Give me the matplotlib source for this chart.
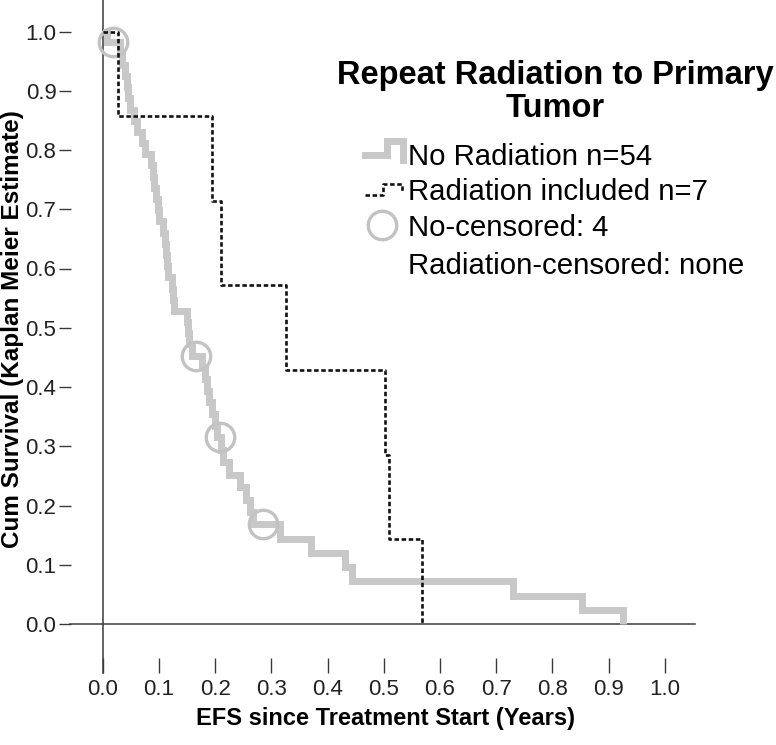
import numpy as np
import matplotlib
matplotlib.use("Agg")
import matplotlib.pyplot as plt

plt.rcParams['font.family'] = ['Liberation Sans', 'DejaVu Sans']

# ---------------- data ----------------
# No Radiation group (n=54): event times and censored times (years)
no_rad_events = [0.008,
                 0.031, 0.034, 0.040, 0.043, 0.045, 0.049, 0.056, 0.061, 0.070,
                 0.075, 0.086, 0.090, 0.091, 0.095, 0.098, 0.100, 0.107, 0.111,
                 0.112, 0.114, 0.116, 0.123, 0.125, 0.127, 0.150, 0.152, 0.154,
                 0.159,
                 0.177, 0.182, 0.186, 0.189, 0.195, 0.200, 0.204,
                 0.211, 0.214, 0.225, 0.245, 0.255, 0.262, 0.268,
                 0.316, 0.371, 0.431, 0.443, 0.730, 0.852, 0.926]
no_rad_censored = [0.0185, 0.166, 0.209, 0.285]

# Radiation included group (n=7): event times (no censoring)
rad_events = [0.027, 0.194, 0.211, 0.326, 0.502, 0.510, 0.569]
rad_censored = []

x_ticks = [0.0, 0.1, 0.2, 0.3, 0.4, 0.5, 0.6, 0.7, 0.8, 0.9, 1.0]
y_ticks = [0.0, 0.1, 0.2, 0.3, 0.4, 0.5, 0.6, 0.7, 0.8, 0.9, 1.0]

legend_title = ["Repeat Radiation to Primary", "Tumor"]
legend_labels = ["No Radiation n=54", "Radiation included n=7",
                 "No-censored: 4", "Radiation-censored: none"]
x_label = "EFS since Treatment Start (Years)"
y_label = "Cum Survival (Kaplan Meier Estimate)"


def kaplan_meier(events, censored):
    times = sorted(set(events) | set(censored))
    n = len(events) + len(censored)
    at_risk = n
    s = 1.0
    t_out, s_out, cens_pts = [0.0], [1.0], []
    for t in times:
        d = events.count(t)
        c = censored.count(t)
        if d:
            s *= (at_risk - d) / at_risk
            t_out.append(t)
            s_out.append(s)
        if c:
            cens_pts.append((t, s))
        at_risk -= d + c
    return np.array(t_out), np.array(s_out), cens_pts


W, H = 776, 745
fig = plt.figure(figsize=(W / 100, H / 100), dpi=100)
ax = fig.add_axes([0, 0, 1, 1])

# pixel mapping of the reference: x0=102.7px, 0.1 -> 56.2px ; y0=624px, 0.1 -> 59.25px
x0p, xs = 102.7, 562.0
y0p, ys = 624.0, 592.5
ax.set_xlim((0 - x0p) / xs, (W - x0p) / xs)
ax.set_ylim((y0p - H) / ys, (y0p - 0) / ys)


def px(xp, yp):
    return (xp - x0p) / xs, (y0p - yp) / ys


gray = '#c8c8c8'
circ = '#c2c2c2'

# curves
t1, s1, c1 = kaplan_meier(no_rad_events, no_rad_censored)
ax.step(t1, s1, where='post', color=gray, lw=5.0, solid_joinstyle='miter',
        solid_capstyle='butt', zorder=2)
if c1:
    cx, cy = zip(*c1)
    ax.plot(cx, cy, 'o', ms=20.5, mfc='none', mec=circ, mew=2.4, zorder=3)

t2, s2, c2 = kaplan_meier(rad_events, rad_censored)
ax.step(t2, s2, where='post', color='#111111', lw=1.9,
        linestyle=(0, (1.7, 1.0)), zorder=4)

# axis lines (SPSS style)
axis_col = '#3a3a3a'
xa, _ = px(70, 0)
xb, _ = px(695, 0)
ax.plot([xa, xb], [0, 0], color=axis_col, lw=1.1, zorder=1, clip_on=False)
_, yb = px(0, 673)
_, yt = px(0, -2)
ax.plot([0, 0], [yb, yt], color=axis_col, lw=1.1, zorder=1, clip_on=False)

# ticks, detached from axes lines
for s in ax.spines.values():
    s.set_visible(False)
ax.spines['bottom'].set_position(('data', px(0, 658)[1]))
ax.spines['left'].set_position(('data', px(71, 0)[0]))
ax.set_xticks(x_ticks)
ax.set_yticks(y_ticks)
ax.set_xticklabels([f"{v:.1f}" for v in x_ticks])
ax.set_yticklabels([f"{v:.1f}" for v in y_ticks])
ax.tick_params(axis='x', direction='out', length=10.8, width=1.0, color=axis_col,
               labelsize=16, labelcolor='#222222', pad=4.5)
ax.tick_params(axis='y', direction='out', length=9.0, width=1.0, color=axis_col,
               labelsize=16, labelcolor='#222222', pad=1.5)

# axis labels
lx, ly = px(386, 718)
ax.text(lx, ly, x_label, ha='center', va='center', fontsize=17, fontweight='bold')
lx, ly = px(13, 329)
ax.text(lx, ly, y_label, ha='center', va='center', fontsize=17.5,
        fontweight='bold', rotation=90)

# legend (title + entries)
tx, ty = px(555, 84)
ax.text(tx, ty, legend_title[0], ha='center', va='baseline', fontsize=23.5,
        fontweight='bold')
tx, ty = px(555, 117)
ax.text(tx, ty, legend_title[1], ha='center', va='baseline', fontsize=23.5,
        fontweight='bold')

g = [px(365, 155), px(387, 155), px(387, 141), px(403, 141), px(403, 160)]
ax.plot(*zip(*g), color=gray, lw=5.0, solid_joinstyle='miter', clip_on=False)
d = [px(365, 195), px(383, 195), px(383, 184), px(402, 184), px(402, 193)]
ax.plot(*zip(*d), color='#111111', lw=1.9, linestyle=(0, (1.7, 1.0)), clip_on=False)
cxp, cyp = px(382, 225)
ax.plot([cxp], [cyp], 'o', ms=20.5, mfc='none', mec=circ, mew=2.4, clip_on=False)

for lab, base in zip(legend_labels, [165, 200, 236, 274]):
    lx, ly = px(408, base)
    ax.text(lx, ly, lab, ha='left', va='baseline', fontsize=21.2)

fig.savefig('out.png', dpi=100, facecolor='white')
